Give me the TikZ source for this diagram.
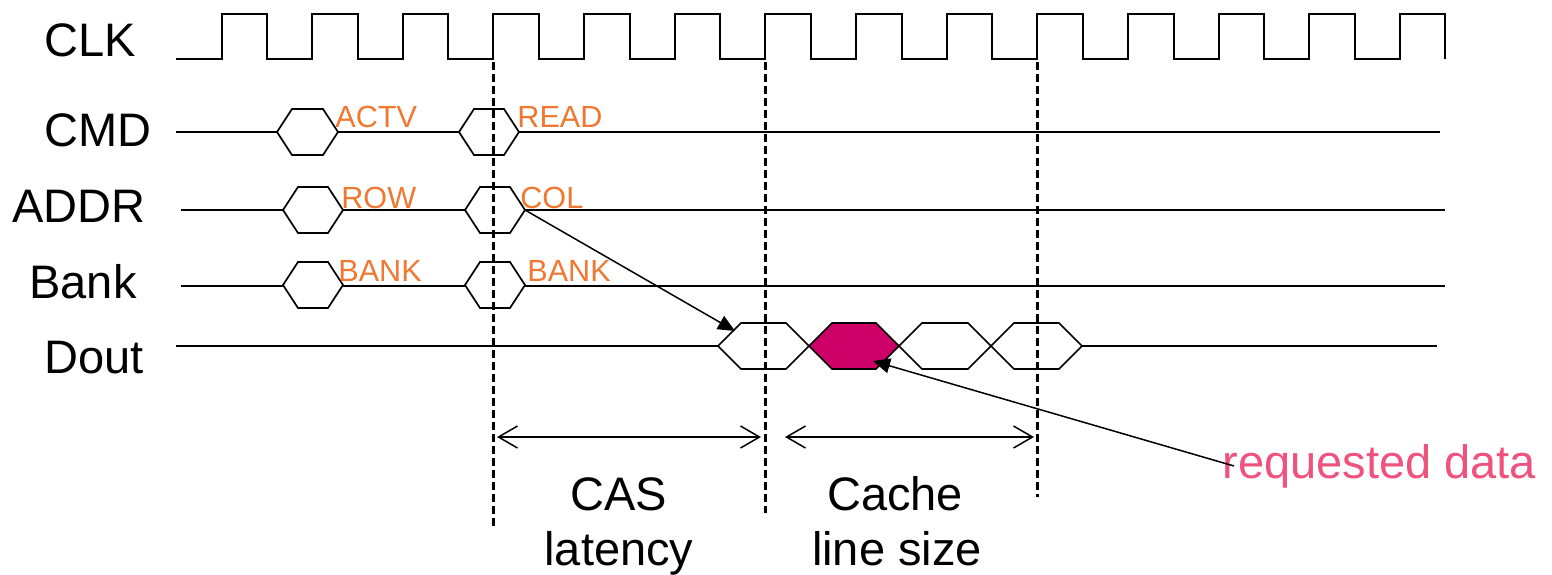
\documentclass[tikz,border=0pt]{standalone}
\usepackage{fontspec}
\setmainfont{Liberation Sans}
\usetikzlibrary{arrows.meta}

\definecolor{taglbl}{RGB}{240,120,50}
\definecolor{reqlbl}{RGB}{238,82,125}
\definecolor{hotcell}{RGB}{204,0,102}

\begin{document}
\begin{tikzpicture}[x=0.5pt,y=-0.5pt,line join=miter,
  wave/.style={line width=1pt},
  sigline/.style={line width=0.85pt},
  hexa/.style={line width=0.85pt},
  guide/.style={line width=1.1pt,dash pattern=on 4pt off 2pt},
  biglbl/.style={font=\fontsize{23.5}{27}\selectfont,inner sep=0pt},
  taglabel/.style={font=\fontsize{15.3}{18}\selectfont,text=taglbl,inner sep=0pt},
  spanarrow/.style={line width=0.75pt,{Straight Barb[length=9.5pt,width=11pt]}-{Straight Barb[length=9.5pt,width=11pt]}},
  pointer/.style={line width=0.75pt,-{Triangle[length=8.5pt,width=7.5pt]}},
  pics/hexcell/.style n args={4}{code={
    \draw[hexa,fill=#4] (0,0) -- (#2,-#3) -- ({#1-#2},-#3) -- (#1,0)
      -- ({#1-#2},#3) -- (#2,#3) -- cycle;}}]

\useasboundingbox (0,0) rectangle (1552,574);

% signal names
\node[biglbl,anchor=base west] (nclk)  at (44,56)  {CLK};
\node[biglbl,anchor=base west] (ncmd)  at (44,146) {CMD};
\node[biglbl,anchor=base west] (naddr) at (12,222) {ADDR};
\node[biglbl,anchor=base west] (nbank) at (29,298) {Bank};
\node[biglbl,anchor=base west] (ndout) at (44,373) {Dout};

% clock
\draw[wave] (176,59)
  \foreach \k in {0,...,13} {
    -- ({221.5+90.65*\k},59) -- ({221.5+90.65*\k},14)
    -- ({267+90.65*\k},14) -- ({267+90.65*\k},59)
  };

% CMD
\draw[sigline] (176,132) -- (277,132) (338,132) -- (459,132) (519,132) -- (1440,132);
\pic at (277,132) {hexcell={61}{15}{23}{white}};
\pic at (459,132) {hexcell={60}{15}{23}{white}};

% ADDR
\draw[sigline] (181,210) -- (283,210) (343,210) -- (465,210) (525,210) -- (1445,210);
\pic at (283,210) {hexcell={60}{15}{23}{white}};
\pic at (465,210) {hexcell={60}{15}{23}{white}};

% Bank
\draw[sigline] (181,286) -- (283,286) (343,286) -- (465,286) (525,286) -- (1445,286);
\pic at (283,285) {hexcell={60}{15}{23}{white}};
\pic at (465,285) {hexcell={60}{15}{23}{white}};

% Dout burst
\draw[sigline] (176,346) -- (718,346) (1082,346) -- (1437,346);
\pic at (718,346) {hexcell={91}{23}{23}{white}};
\pic at (809,346) {hexcell={90}{23}{23}{hotcell}};
\pic at (899,346) {hexcell={92}{23}{23}{white}};
\pic at (991,346) {hexcell={91}{23}{23}{white}};

% bus values
\node[taglabel,anchor=base west] (tactv) at (335,127) {ACTV};
\node[taglabel,anchor=base west] (tread) at (517,127) {READ};
\node[taglabel,anchor=base west] (trow)  at (341,208) {ROW};
\node[taglabel,anchor=base west] (tcol)  at (520,208) {COL};
\node[taglabel,anchor=base west] (tbk1)  at (338,281) {BANK};
\node[taglabel,anchor=base west] (tbk2)  at (527,281) {BANK};

% timing references
\coordinate (g1t) at (493.5,62);  \coordinate (g1b) at (493.5,527);
\coordinate (g2t) at (765.5,62);  \coordinate (g2b) at (765.5,513);
\coordinate (g3t) at (1037.5,62); \coordinate (g3b) at (1037.5,497);
\draw[guide] (g1t) -- (g1b);
\draw[guide] (g2t) -- (g2b);
\draw[guide] (g3t) -- (g3b);

% intervals
\coordinate (casL) at (497,437);   \coordinate (casR) at (761,437);
\coordinate (lineL) at (785,437);  \coordinate (lineR) at (1034,437);
\draw[spanarrow] (casL) -- (casR);
\draw[spanarrow] (lineL) -- (lineR);

\node[biglbl,anchor=base] (cas1)  at (619,510) {CAS};
\node[biglbl,anchor=base] (cas2)  at (619,565) {latency};
\node[biglbl,anchor=base] (line1) at (895,510) {Cache};
\node[biglbl,anchor=base] (line2) at (897,565) {line size};

% column address to first data beat
\coordinate (colout) at (525,210);
\coordinate (beat1) at (735,331);
\draw[pointer] (colout) -- (beat1);

% requested word
\node[biglbl,text=reqlbl,anchor=base west] (req) at (1222,478) {requested data};
\coordinate (reqstart) at (1234,466);
\coordinate (beat2) at (873,361);
\draw[pointer] (reqstart) -- (beat2);

\end{tikzpicture}
\end{document}
